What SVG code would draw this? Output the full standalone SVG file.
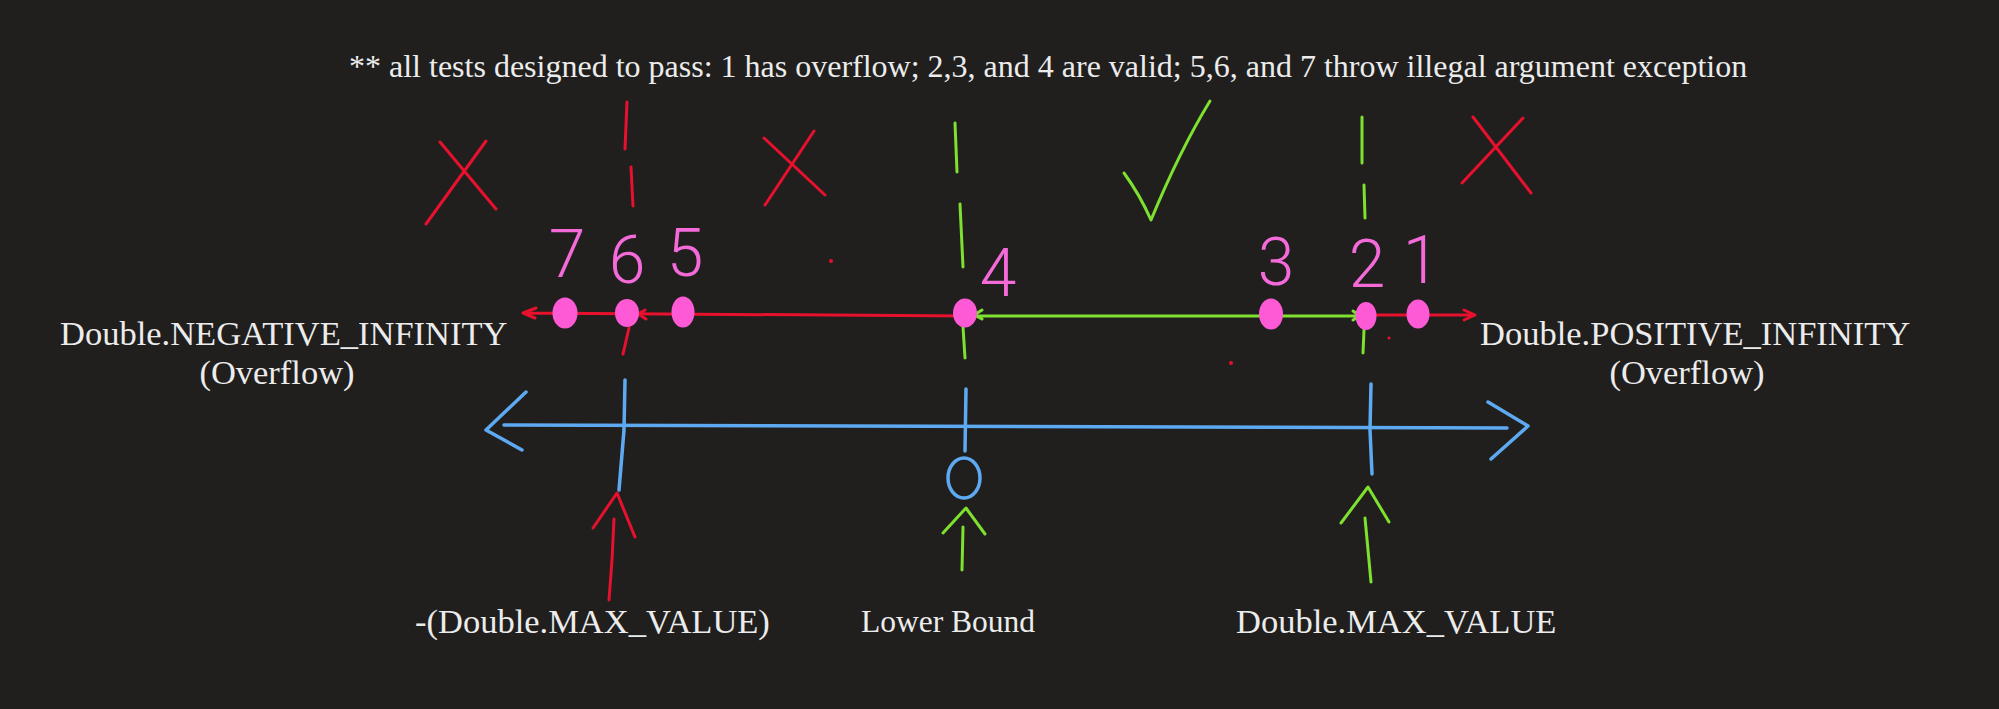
<svg xmlns="http://www.w3.org/2000/svg" width="1999" height="709" viewBox="0 0 1999 709">
<style>
.lbl{font-family:"Liberation Serif","Times New Roman",serif;fill:#ececec}
.dig{font-family:Roboto,"Liberation Sans",sans-serif;font-weight:300;font-size:66px;fill:#f36ad8;text-anchor:middle}
.red{stroke:#e8112d;fill:none;stroke-width:3;stroke-linecap:round;stroke-linejoin:round}
.grn{stroke:#7ee02f;fill:none;stroke-width:3;stroke-linecap:round;stroke-linejoin:round}
.blu{stroke:#5eaaf2;fill:none;stroke-width:3.5;stroke-linecap:round;stroke-linejoin:round}
.dot{fill:#ff5ad6}
</style>
<rect width="1999" height="709" fill="#201f1e"/>

<g id="title"><text class="lbl" x="349" y="77" font-size="32">** all tests designed to pass: 1 has overflow; 2,3, and 4 are valid; 5,6, and 7 throw illegal argument exception</text></g>

<g id="neg-inf"><text class="lbl" x="60" y="345" font-size="34.5">Double.NEGATIVE_INFINITY</text><text class="lbl" x="277" y="384" font-size="34.5" text-anchor="middle">(Overflow)</text></g>
<g id="pos-inf"><text class="lbl" x="1480" y="345" font-size="34.5">Double.POSITIVE_INFINITY</text><text class="lbl" x="1687" y="384" font-size="34.5" text-anchor="middle">(Overflow)</text></g>
<g id="neg-max"><text class="lbl" x="415" y="633" font-size="34.5">-(Double.MAX_VALUE)</text></g>
<g id="lower-bound"><text class="lbl" x="861" y="632" font-size="31.5">Lower Bound</text></g>
<g id="pos-max"><text class="lbl" x="1236" y="633" font-size="34.5">Double.MAX_VALUE</text></g>

<g id="marks">
<path class="red" d="M440,142 L496,209 M486,141 L426,224"/>
<path class="red" d="M764,138 L825,195 M814,131 L765,205"/>
<path class="red" d="M1473,117 L1531,193 M1523,118 L1462,183"/>
<path class="grn" d="M1124,173 Q1140,195 1151,220 Q1180,150 1210,101"/>
<path class="red" d="M627,102 L625,149 M631,167 L633,206"/>
<path class="grn" d="M955,123 L957,172 M960,204 L963,267"/>
<path class="grn" d="M1362,117 L1362,163 M1364,185 L1365,218"/>
</g>

<g id="connectors">
<path class="red" stroke-width="2.5" d="M523,313 L966,316 M536,308 L523,313 L535,318 M645,310 L638,314 L646,319"/>
<path class="red" d="M629,328 L623,354"/>
<path class="grn" stroke-width="2.5" d="M966,316 L1360,316 M982,310 L974,315 L982,319 M1353,311 L1360,316 L1353,320"/>
<path class="grn" d="M963,327 L965,358 M1364,330 L1363,353"/>
<path class="red" stroke-width="2.5" d="M1366,315 L1475,315 M1464,310 L1475,315 L1464,320"/>
<path class="blu" d="M504,425 L1507,428 M526,392 L486,430 L522,450 M1488,402 L1528,426 L1491,459"/>
<path class="blu" stroke-width="3" d="M625,380 L624,430 L619,490 M966,389 L965,451 M1371,384 L1370,430 L1372,474"/>
<path class="red" d="M593,528 L617,493 L635,537 M614,519 L612,560 L609,600"/>
<path class="grn" d="M943,533 L966,508 L985,534 M963,527 L962,570"/>
<path class="grn" d="M1341,523 L1368,487 L1389,522 M1365,518 L1368,550 L1371,582"/>
</g>

<g id="zero"><ellipse cx="964" cy="478" rx="16" ry="20" class="blu" stroke-width="3"/></g>

<g id="points">
<ellipse class="dot" cx="565" cy="313" rx="12.5" ry="15.5"/>
<ellipse class="dot" cx="627" cy="313" rx="12" ry="14"/>
<ellipse class="dot" cx="683" cy="312" rx="11.5" ry="15.5"/>
<ellipse class="dot" cx="965" cy="313" rx="12" ry="14.5"/>
<ellipse class="dot" cx="1271" cy="314" rx="12" ry="15.5"/>
<ellipse class="dot" cx="1366" cy="316" rx="10.5" ry="14"/>
<ellipse class="dot" cx="1418" cy="314" rx="11.5" ry="14.5"/>
</g>

<g id="digits">
<text class="dig" x="567" y="277">7</text>
<text class="dig" x="627" y="283">6</text>
<text class="dig" x="685" y="276">5</text>
<text class="dig" x="998" y="296" font-size="80">4</text>
<text class="dig" x="1276" y="285">3</text>
<text class="dig" x="1367" y="287">2</text>
<text class="dig" x="1421" y="283">1</text>
</g>

<g id="specks" fill="#e8112d">
<circle cx="831" cy="261" r="2"/>
<circle cx="1231" cy="363" r="2"/>
<circle cx="1389" cy="338" r="1.5"/>
</g>
</svg>
